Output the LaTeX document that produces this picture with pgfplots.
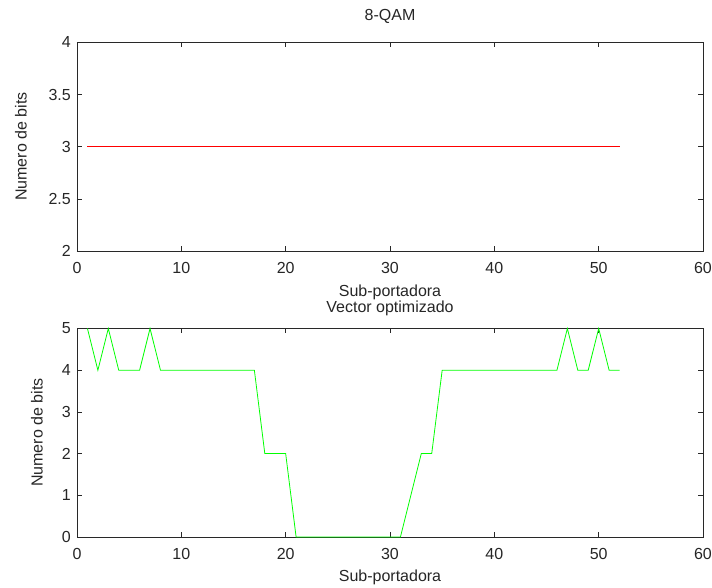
\documentclass[border=0pt]{standalone}
\usepackage{pgfplots}
\pgfplotsset{compat=1.18}
\usepackage{fontspec}
\setmainfont{Liberation Sans}
\definecolor{axgray}{RGB}{40,40,40}
\begin{document}
\begin{tikzpicture}
\pgfplotsset{
  mat/.style={
    scale only axis, width=626pt, height=208.5pt,
    xmin=0, xmax=60, xtick={0,10,...,60},
    tick align=inside, tick pos=both,
    major tick length=5pt,
    axis line style={axgray, line width=0.7pt},
    every tick/.style={axgray, line width=0.7pt},
    /pgf/number format/assume math mode=true,
    tick label style={font=\fontsize{16}{17}\selectfont, text=black!85, inner sep=0pt},
    label style={font=\fontsize{16}{17}\selectfont, text=black!85},
    title style={font=\fontsize{16}{17}\selectfont, text=black!85},
    xticklabel style={anchor=center, yshift=-17pt},
    yticklabel style={anchor=east, xshift=-6pt},
    clip=false,
  }
}
\begin{axis}[mat, at={(77pt,337pt)}, anchor=south west,
  ymin=2, ymax=4, ytick={2,2.5,...,4},
  yticklabel style={/pgf/number format/.cd, fixed, precision=1},
  title={8-QAM},
  title style={at={(axis description cs:0.5,1)}, anchor=center, yshift=20pt},
  xlabel={Sub-portadora},
  xlabel style={at={(axis description cs:0.5,0)}, anchor=center, yshift=-41.5pt},
  ylabel={Numero de bits},
  ylabel style={at={(axis description cs:0,0.5)}, anchor=center, yshift=56pt}]
\addplot[color=red, line width=0.8pt] coordinates {(1,3) (52,3)};
\end{axis}
\begin{axis}[mat, at={(77pt,51pt)}, anchor=south west,
  ymin=0, ymax=5, ytick={0,...,5},
  title={Vector optimizado},
  title style={at={(axis description cs:0.5,1)}, anchor=center, yshift=14.5pt},
  xlabel={Sub-portadora},
  xlabel style={at={(axis description cs:0.5,0)}, anchor=center, yshift=-40pt},
  ylabel={Numero de bits},
  ylabel style={at={(axis description cs:0,0.5)}, anchor=center, yshift=40pt}]
\addplot[color={rgb,255:red,0;green,255;blue,0}, line width=0.8pt] table[row sep=\\] {
x y \\
1 5 \\ 2 4 \\ 3 5 \\ 4 4 \\ 5 4 \\ 6 4 \\ 7 5 \\ 8 4 \\
9 4 \\ 10 4 \\ 11 4 \\ 12 4 \\ 13 4 \\ 14 4 \\ 15 4 \\ 16 4 \\
17 4 \\ 18 2 \\ 19 2 \\ 20 2 \\ 21 0 \\ 22 0 \\ 23 0 \\ 24 0 \\
25 0 \\ 26 0 \\ 27 0 \\ 28 0 \\ 29 0 \\ 30 0 \\ 31 0 \\ 32 1 \\
33 2 \\ 34 2 \\ 35 4 \\ 36 4 \\ 37 4 \\ 38 4 \\ 39 4 \\ 40 4 \\
41 4 \\ 42 4 \\ 43 4 \\ 44 4 \\ 45 4 \\ 46 4 \\ 47 5 \\ 48 4 \\
49 4 \\ 50 5 \\ 51 4 \\ 52 4 \\
};
\end{axis}
\pgfresetboundingbox
\path[use as bounding box] (0pt,0pt) rectangle (712pt,588pt);
\end{tikzpicture}
\end{document}
